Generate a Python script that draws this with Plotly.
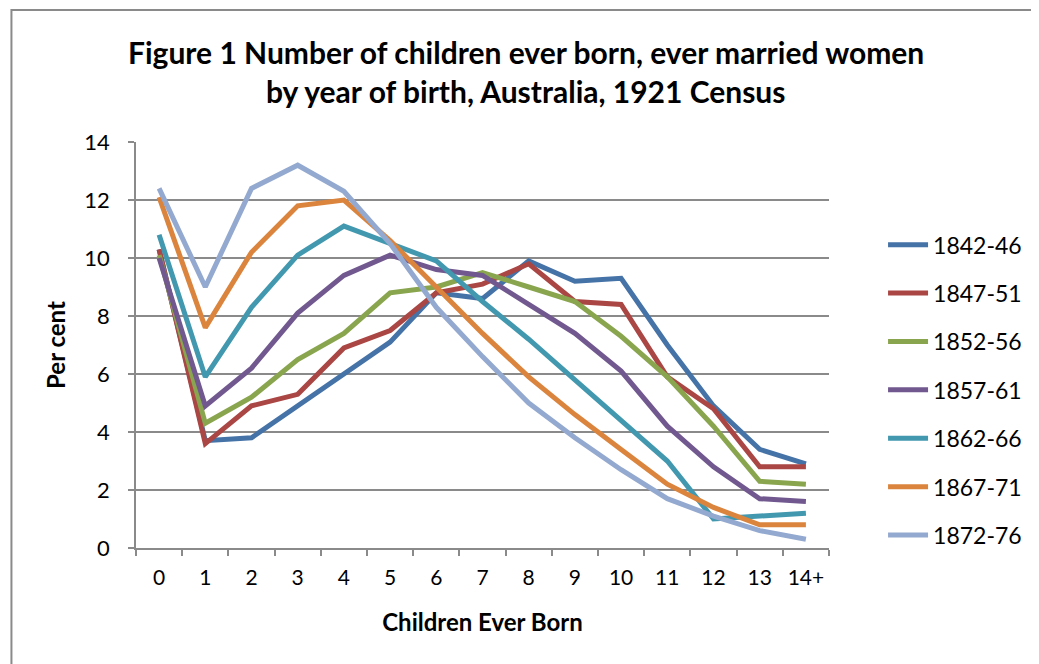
import plotly.graph_objects as go

categories = ["0", "1", "2", "3", "4", "5", "6", "7", "8", "9", "10", "11", "12", "13", "14+"]

s1842_46 = [10.3, 3.7, 3.8, 4.9, 6.0, 7.1, 8.8, 8.6, 9.9, 9.2, 9.3, 7.0, 4.9, 3.4, 2.9]
s1847_51 = [10.3, 3.6, 4.9, 5.3, 6.9, 7.5, 8.8, 9.1, 9.8, 8.5, 8.4, 5.9, 4.8, 2.8, 2.8]
s1852_56 = [10.1, 4.3, 5.2, 6.5, 7.4, 8.8, 9.0, 9.5, 9.0, 8.5, 7.3, 5.9, 4.2, 2.3, 2.2]
s1857_61 = [10.0, 4.9, 6.2, 8.1, 9.4, 10.1, 9.6, 9.4, 8.4, 7.4, 6.1, 4.2, 2.8, 1.7, 1.6]
s1862_66 = [10.8, 5.9, 8.3, 10.1, 11.1, 10.5, 9.9, 8.5, 7.2, 5.8, 4.4, 3.0, 1.0, 1.1, 1.2]
s1867_71 = [12.1, 7.6, 10.2, 11.8, 12.0, 10.6, 9.0, 7.4, 5.9, 4.6, 3.4, 2.2, 1.4, 0.8, 0.8]
s1872_76 = [12.4, 9.0, 12.4, 13.2, 12.3, 10.5, 8.3, 6.6, 5.0, 3.8, 2.7, 1.7, 1.1, 0.6, 0.3]

series_names = ["1842-46", "1847-51", "1852-56", "1857-61", "1862-66", "1867-71", "1872-76"]
series_values = [s1842_46, s1847_51, s1852_56, s1857_61, s1862_66, s1867_71, s1872_76]
colors = ["#4572A7", "#AA4643", "#89A54E", "#71588F", "#4198AF", "#DB843D", "#93A9CF"]

FONT = "Lato"
W, H = 1031, 656
L, R, T, B = 128, 202, 134, 116
PW, PH = W - L - R, H - T - B

def px_x(x):
    return (x - L) / PW

def px_y(y):
    return (H - B - y) / PH

fig = go.Figure()
for name, vals, col in zip(series_names, series_values, colors):
    fig.add_trace(go.Scatter(
        x=categories, y=vals, name=name, mode="lines",
        line=dict(color=col, width=5),
        legendgroup=name,
    ))

grid = "#8A8A8A"
fig.update_layout(
    width=W, height=H,
    margin=dict(l=L, r=R, t=T, b=B),
    paper_bgcolor="white", plot_bgcolor="white",
    font=dict(family=FONT, color="#000000", size=21),
    showlegend=True,
    legend=dict(
        x=1.078, xanchor="left", y=0.80, yanchor="top",
        font=dict(family=FONT, size=23, color="#000000"),
        tracegroupgap=15.5, itemwidth=40,
        bgcolor="rgba(0,0,0,0)",
    ),
    xaxis=dict(
        type="category", range=[-0.5, 14.5],
        showgrid=False, showline=True, linecolor=grid, linewidth=1.5,
        ticks="outside", tickson="boundaries", ticklen=6, tickcolor=grid, tickwidth=1.5,
        tickfont=dict(family=FONT, size=21), tickangle=0,
        ticklabelstandoff=10,
        title=dict(text="<b>Children Ever Born</b>", font=dict(family=FONT, size=24), standoff=26),
        zeroline=False,
    ),
    yaxis=dict(
        range=[0, 14], dtick=2, tick0=0,
        showgrid=True, gridcolor=grid, gridwidth=1.5,
        showline=True, linecolor=grid, linewidth=1.5,
        ticks="outside", ticklen=6, tickcolor=grid, tickwidth=1.5,
        tickfont=dict(family=FONT, size=22),
        ticklabelstandoff=14,
        title=dict(text="<b>Per cent</b>", font=dict(family=FONT, size=24), standoff=12),
        zeroline=False,
    ),
    annotations=[
        dict(text="<b>Figure 1 Number of children ever born, ever married women</b>",
             xref="paper", yref="paper", x=px_x(522), y=px_y(44),
             showarrow=False, xanchor="center", yanchor="middle",
             font=dict(family=FONT, size=30, color="#000000")),
        dict(text="<b>by year of birth, Australia, 1921 Census</b>",
             xref="paper", yref="paper", x=px_x(522), y=px_y(83),
             showarrow=False, xanchor="center", yanchor="middle",
             font=dict(family=FONT, size=30, color="#000000")),
    ],
    shapes=[
        dict(type="rect", xref="paper", yref="paper",
             x0=px_x(2), x1=1.5, y0=-0.5, y1=px_y(2),
             line=dict(color="#8A8A8A", width=2), fillcolor="rgba(0,0,0,0)", layer="below"),
    ],
)

fig.write_html("out.html")
